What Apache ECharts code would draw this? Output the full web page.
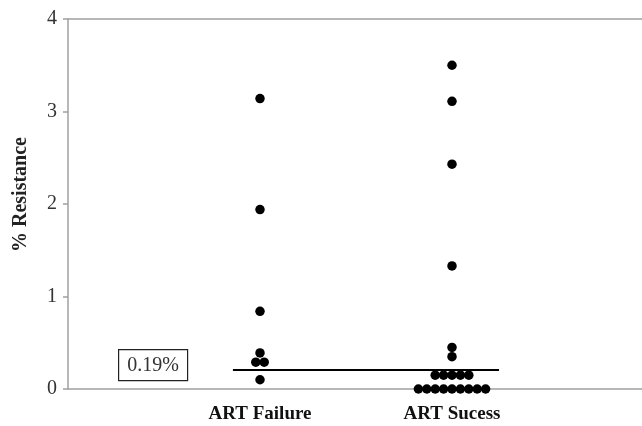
<!DOCTYPE html>
<html><head><meta charset="utf-8">
<script src="https://cdn.jsdelivr.net/npm/echarts@6/dist/echarts.min.js"></script>
<style>html,body{margin:0;padding:0;background:#fff}#c{width:642px;height:426px}</style>
</head><body><div id="c"></div>
<script>
const categories = ['ART Failure', 'ART Sucess'];
const failureValues = [3.14, 1.94, 0.84, 0.39, 0.29, 0.29, 0.10];
const successValues = [3.50, 3.11, 2.43, 1.33, 0.45, 0.35, 0.15, 0.15, 0.15, 0.15, 0.15, 0, 0, 0, 0, 0, 0, 0, 0, 0];
const yTicks = [0, 1, 2, 3, 4];
const cutoffValue = 0.21;
const cutoffLabel = '0.19%';

const chart = echarts.init(document.getElementById('c'));
const gridLeft = 68, gridRight = -2, gridTop = 19, gridBottom = 37;
const xMax = 3;
const pxPerX = (642 - gridLeft - gridRight) / xMax;
const dotPx = 8.4;
const dx = dotPx / pxPerX;

// beeswarm: equal values spread symmetrically in a row
function swarm(values, center) {
  const groups = {};
  values.forEach(v => { (groups[v] = groups[v] || []).push(v); });
  const pts = [];
  Object.keys(groups).forEach(k => {
    const g = groups[k];
    g.forEach((v, i) => pts.push([center + (i - (g.length - 1) / 2) * dx, v]));
  });
  return pts;
}

const serif = '"Liberation Serif", "DejaVu Serif", serif';

chart.setOption({
  animation: false,
  grid: { left: gridLeft, right: gridRight, top: gridTop, bottom: gridBottom, containLabel: false, outerBoundsMode: 'none' },
  xAxis: [{
    type: 'value', min: 0, max: xMax, interval: 1,
    axisLine: { show: true, lineStyle: { color: '#a0a0a0', width: 1.5 } },
    axisTick: { show: false },
    splitLine: { show: false },
    axisLabel: {
      margin: 16, color: '#111',
      fontFamily: serif, fontWeight: 'bold', fontSize: 19,
      formatter: v => categories[Math.round(v) - 1] && Math.abs(v - Math.round(v)) < 1e-6 ? categories[Math.round(v) - 1] : ''
    }
  }, {
    type: 'value', min: 0, max: xMax, position: 'top',
    axisLine: { show: true, lineStyle: { color: '#a0a0a0', width: 1.5 } },
    axisTick: { show: false }, axisLabel: { show: false }, splitLine: { show: false }
  }],
  yAxis: {
    type: 'value', min: yTicks[0], max: yTicks[yTicks.length - 1], interval: 1,
    axisLine: { show: true, lineStyle: { color: '#a0a0a0', width: 1.5 } },
    axisTick: { show: true, inside: false, length: 5, lineStyle: { color: '#a0a0a0', width: 1.5 } },
    splitLine: { show: false },
    axisLabel: { margin: 11, color: '#333', fontFamily: serif, fontSize: 20 }
  },
  graphic: [
    {
      type: 'text', left: 11, top: 137, rotation: Math.PI / 2,
      style: { text: '% Resistance', fontFamily: serif, fontWeight: 'bold', fontSize: 20, fill: '#222' },
      originX: 0, originY: 0
    },
    {
      type: 'group', left: 118, top: 349,
      children: [
        { type: 'rect', shape: { x: 0, y: 0, width: 69, height: 31 }, style: { fill: '#fff', stroke: '#222', lineWidth: 1.2 } },
        { type: 'text', x: 34.5, y: 16, style: { text: cutoffLabel, fontFamily: serif, fontSize: 20, fill: '#333', align: 'center', verticalAlign: 'middle' } }
      ]
    }
  ],
  series: [
    {
      type: 'scatter', symbol: 'circle', symbolSize: 9.5,
      itemStyle: { color: '#000', opacity: 1 },
      data: swarm(failureValues, 1)
    },
    {
      type: 'scatter', symbol: 'circle', symbolSize: 9.5,
      itemStyle: { color: '#000', opacity: 1 },
      data: swarm(successValues, 2),
      markLine: {
        silent: true, symbol: 'none', label: { show: false },
        lineStyle: { color: '#000', width: 2, type: 'solid' },
        data: [[{ coord: [1 - 0.141, cutoffValue] }, { coord: [2 + 0.245, cutoffValue] }]]
      }
    }
  ]
});
</script>
</body></html>
